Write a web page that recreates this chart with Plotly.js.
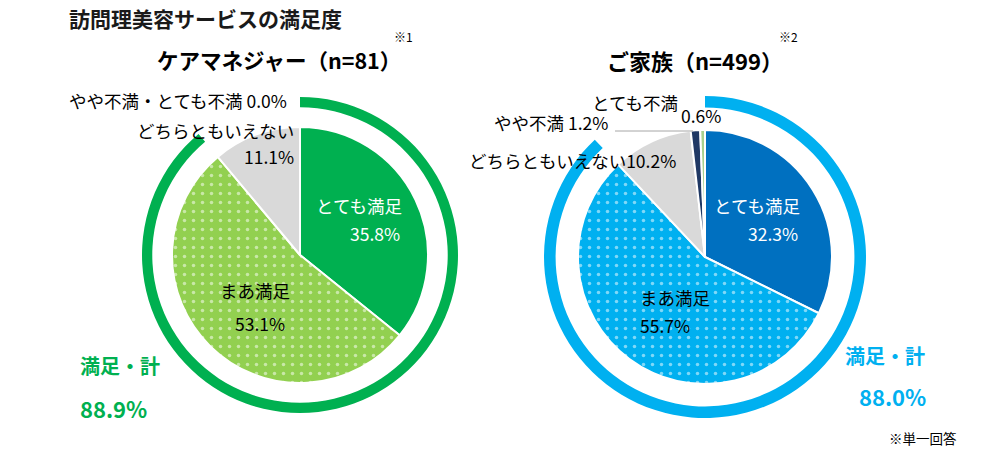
<!DOCTYPE html>
<html><head><meta charset="utf-8">
<script src="https://cdn.plot.ly/plotly-3.0.1.min.js"></script>
<style>html,body{margin:0;padding:0;background:#fff}#chart{width:1000px;height:452px}</style>
</head><body><div id="chart"></div>
<script>
// ---- data ----
const cmLabels = ['とても満足', 'まあ満足', 'どちらともいえない', 'やや不満・とても不満'];
const cmValues = [35.8, 53.1, 11.1, 0.0];
const cmTotal = 88.9;
const famLabels = ['とても満足', 'まあ満足', 'どちらともいえない', 'やや不満', 'とても不満'];
const famValues = [32.3, 55.7, 10.2, 1.2, 0.6];
const famTotal = 88.0;
const cmTitle = 'ケアマネジャー（n=81）';
const famTitle = 'ご家族（n=499）';
const mainTitle = '訪問理美容サービスの満足度';
const totalLabel = '満足・計';
const noteText = '※単一回答';

const W = 1000, H = 452;
const FONT = '"Noto Sans CJK JP", "Noto Sans", sans-serif';
const pct = v => v.toFixed(1) + '%';

function dom(cx, cy, r) {
  return {x: [(cx - r) / W, (cx + r) / W], y: [1 - (cy + r) / H, 1 - (cy - r) / H]};
}

const cmGreen = '#00B050', cmLight = '#92D050', gray = '#D9D9D9';
const famBlue = '#0070C0', famLight = '#00B0F0', navy = '#1F3864', paleGreen = '#A9D18E', famRing = '#00B0F0';
const dotPattern = n => ({shape: ['', '.'].concat(Array(n - 2).fill('')), fgcolor: '#ffffff', fillmode: 'overlay', size: 9, solidity: 0.12});

const traces = [
  {type: 'pie', values: [cmTotal, 100 - cmTotal], labels: ['満足・計', ''], sort: false, direction: 'clockwise', rotation: 0,
   hole: 0.935, domain: dom(300, 255, 158), textinfo: 'none', hoverinfo: 'skip', showlegend: false,
   marker: {colors: [cmGreen, 'rgba(0,0,0,0)'], line: {width: 0}}},
  {type: 'pie', values: cmValues, labels: cmLabels, sort: false, direction: 'clockwise', rotation: 0,
   domain: dom(300, 255, 128), textinfo: 'none', hoverinfo: 'skip', showlegend: false,
   marker: {colors: [cmGreen, cmLight, gray, '#FF0000'], line: {color: '#fff', width: 2}, pattern: dotPattern(4)}},
  {type: 'pie', values: [famTotal, 100 - famTotal], labels: ['満足・計', ''], sort: false, direction: 'clockwise', rotation: 0,
   hole: 0.928, domain: dom(705, 257, 161), textinfo: 'none', hoverinfo: 'skip', showlegend: false,
   marker: {colors: [famRing, 'rgba(0,0,0,0)'], line: {width: 0}}},
  {type: 'pie', values: famValues, labels: famLabels, sort: false, direction: 'clockwise', rotation: 0,
   domain: dom(705, 257, 127), textinfo: 'none', hoverinfo: 'skip', showlegend: false,
   marker: {colors: [famBlue, famLight, gray, navy, paleGreen], line: {color: '#fff', width: 2}, pattern: dotPattern(5)}}
];

function ann(px, py, text, o) {
  o = o || {};
  return {xref: 'paper', yref: 'paper', x: px / W, y: 1 - py / H, text: text, showarrow: false,
    xanchor: o.xa || 'center', yanchor: 'middle',
    font: {family: FONT, size: o.size || 17.5, color: o.color || '#000'}};
}

const annotations = [
  ann(67, 18, '<b>' + mainTitle + '</b>', {xa: 'left', size: 21, color: '#1a1a1a'}),
  ann(279, 60, '<b>' + cmTitle + '</b>', {size: 21.5}),
  ann(392, 37, '※1', {xa: 'left', size: 12}),
  ann(695, 60, '<b>' + famTitle + '</b>', {size: 22}),
  ann(777, 36, '※2', {xa: 'left', size: 12}),
  ann(359, 205, cmLabels[0], {color: '#fff'}),
  ann(402, 233, pct(cmValues[0]), {xa: 'right', color: '#fff'}),
  ann(255, 290, cmLabels[1]),
  ann(260, 323, pct(cmValues[1])),
  ann(296, 131, cmLabels[2], {xa: 'right'}),
  ann(296, 157, pct(cmValues[2]), {xa: 'right'}),
  ann(67, 101, cmLabels[3] + ' ' + pct(cmValues[3]), {xa: 'left'}),
  ann(757, 205, famLabels[0], {color: '#fff'}),
  ann(800, 233, pct(famValues[0]), {xa: 'right', color: '#fff'}),
  ann(675, 297, famLabels[1]),
  ann(665, 325, pct(famValues[1])),
  ann(467, 160, famLabels[2] + pct(famValues[2]), {xa: 'left'}),
  ann(492, 123, famLabels[3] + ' ' + pct(famValues[3]), {xa: 'left'}),
  ann(680, 102, famLabels[4], {xa: 'right'}),
  ann(679, 115, pct(famValues[4]), {xa: 'left'}),
  ann(78, 365, '<b>' + totalLabel + '</b>', {xa: 'left', size: 20, color: cmGreen}),
  ann(78, 408, '<b>' + pct(cmTotal) + '</b>', {xa: 'left', size: 22, color: cmGreen}),
  ann(843, 355, '<b>' + totalLabel + '</b>', {xa: 'left', size: 20, color: famRing}),
  ann(857, 396, '<b>' + pct(famTotal) + '</b>', {xa: 'left', size: 22, color: famRing}),
  ann(887, 438, noteText, {xa: 'left', size: 13.5})
];

const shapes = [
  {type: 'line', xref: 'paper', yref: 'paper', x0: 615 / W, x1: 693 / W, y0: 1 - 131 / H, y1: 1 - 131 / H,
   line: {color: '#A6A6A6', width: 1}}
];

Plotly.newPlot('chart', traces, {
  width: W, height: H, margin: {l: 0, r: 0, t: 0, b: 0},
  paper_bgcolor: '#fff', showlegend: false, annotations: annotations, shapes: shapes,
  font: {family: FONT}
}, {staticPlot: true});
</script></body></html>
